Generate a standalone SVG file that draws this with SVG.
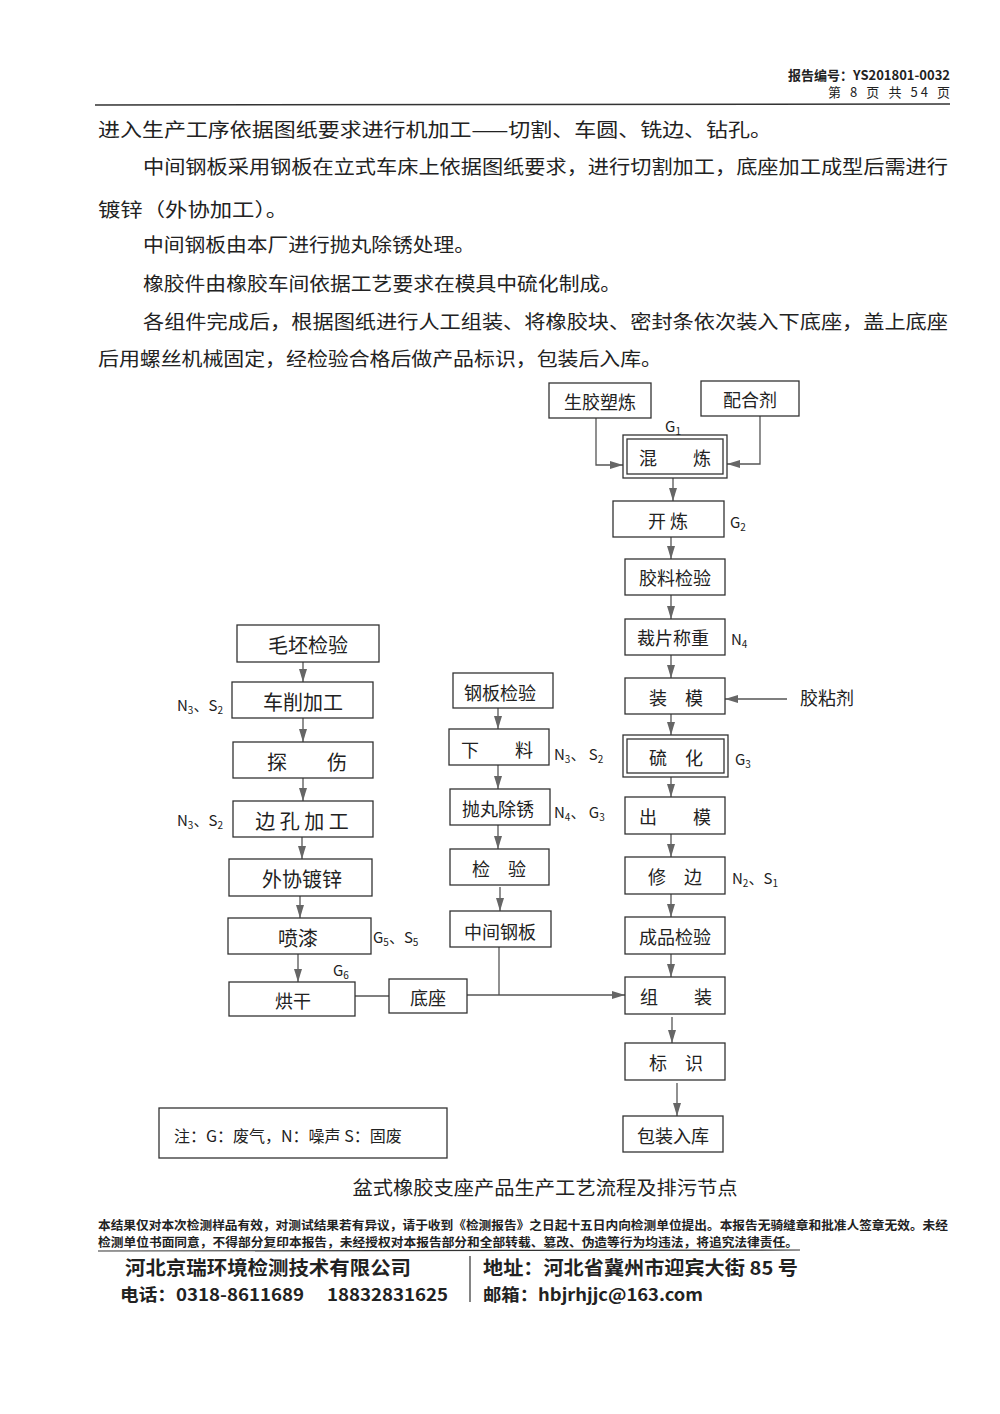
<svg xmlns="http://www.w3.org/2000/svg" width="1000" height="1414" viewBox="0 0 1000 1414">
<defs>
<marker id="ah" markerUnits="userSpaceOnUse" markerWidth="14" markerHeight="10" refX="13" refY="4" orient="auto">
<path d="M0,0 L13,4 L0,8 z" fill="#666"/>
</marker>
<style>
.t{font-family:"Noto Sans CJK SC","Noto Sans",sans-serif;fill:#222}
.body{font-size:19px}
.box{fill:none;stroke:#333;stroke-width:1.3}
.lbl{font-size:18px;text-anchor:middle;dominant-baseline:central}
.lbl2{font-size:20px;text-anchor:middle;dominant-baseline:central}
.sm{font-size:15px}
.sub{font-size:10px}
.ar{fill:none;stroke:#555;stroke-width:1.3;marker-end:url(#ah)}
.ln{fill:none;stroke:#555;stroke-width:1.3}
.ft{font-weight:bold}
</style>
</defs>
<rect width="1000" height="1414" fill="#fff"/>
<g id="header">
<text class="t ft" x="950" y="80" font-size="13" text-anchor="end">报告编号：YS201801-0032</text>
<text class="t" x="828" y="97" font-size="13" textLength="122" lengthAdjust="spacing">第 8 页 共 54 页</text>
<line x1="95" y1="105" x2="950" y2="104" stroke="#333" stroke-width="1.5"/>
</g>
<g id="bodytext">
<text class="t body" x="98" y="137" textLength="674" lengthAdjust="spacingAndGlyphs">进入生产工序依据图纸要求进行机加工——切割、车圆、铣边、钻孔。</text>
<text class="t body" x="143" y="174" textLength="805" lengthAdjust="spacingAndGlyphs">中间钢板采用钢板在立式车床上依据图纸要求，进行切割加工，底座加工成型后需进行</text>
<text class="t body" x="98" y="217" textLength="190" lengthAdjust="spacingAndGlyphs">镀锌（外协加工）。</text>
<text class="t body" x="143" y="252" textLength="332" lengthAdjust="spacingAndGlyphs">中间钢板由本厂进行抛丸除锈处理。</text>
<text class="t body" x="143" y="291" textLength="478" lengthAdjust="spacingAndGlyphs">橡胶件由橡胶车间依据工艺要求在模具中硫化制成。</text>
<text class="t body" x="143" y="329" textLength="805" lengthAdjust="spacingAndGlyphs">各组件完成后，根据图纸进行人工组装、将橡胶块、密封条依次装入下底座，盖上底座</text>
<text class="t body" x="98" y="366" textLength="564" lengthAdjust="spacingAndGlyphs">后用螺丝机械固定，经检验合格后做产品标识，包装后入库。</text>
</g>
<g id="connectors">
<polyline class="ar" points="596,418 596,465 623,465"/>
<polyline class="ar" points="760,416 760,464 727,464"/>
<line class="ar" x1="673" y1="478" x2="673" y2="501"/>
<line class="ar" x1="671" y1="537" x2="671" y2="559"/>
<line class="ar" x1="671" y1="595" x2="671" y2="619"/>
<line class="ar" x1="671" y1="655" x2="671" y2="678"/>
<line class="ar" x1="787" y1="699" x2="725" y2="699"/>
<line class="ar" x1="671" y1="714" x2="671" y2="735"/>
<line class="ar" x1="671" y1="777" x2="671" y2="797"/>
<line class="ar" x1="671" y1="834" x2="671" y2="857"/>
<line class="ar" x1="671" y1="894" x2="671" y2="917"/>
<line class="ar" x1="671" y1="954" x2="671" y2="977"/>
<line class="ar" x1="672" y1="1017" x2="672" y2="1043"/>
<line class="ar" x1="677" y1="1083" x2="677" y2="1116"/>
<line class="ar" x1="303" y1="662" x2="303" y2="682"/>
<line class="ar" x1="303" y1="718" x2="303" y2="742"/>
<line class="ar" x1="303" y1="778" x2="303" y2="801"/>
<line class="ar" x1="302" y1="837" x2="302" y2="859"/>
<line class="ar" x1="300" y1="896" x2="300" y2="918"/>
<line class="ar" x1="298" y1="954" x2="298" y2="982"/>
<line class="ar" x1="498" y1="708" x2="498" y2="729"/>
<line class="ar" x1="498" y1="765" x2="498" y2="789"/>
<line class="ar" x1="498" y1="825" x2="498" y2="849"/>
<line class="ar" x1="500" y1="887" x2="500" y2="911"/>
<line class="ln" x1="355" y1="996" x2="389" y2="996"/>
<line class="ln" x1="499" y1="947" x2="499" y2="995"/>
<line class="ar" x1="467" y1="995" x2="625" y2="995"/>
</g>
<g id="n-shengjiao"><rect class="box" x="549" y="383" width="102" height="35"/><text class="t lbl" x="600" y="401">生胶塑炼</text></g>
<g id="n-peihe"><rect class="box" x="701" y="381" width="98" height="35"/><text class="t lbl" x="750" y="399">配合剂</text></g>
<g id="n-hunlian"><rect class="box" x="623" y="435" width="104" height="43"/><rect class="box" x="627" y="439" width="96" height="35"/><text class="t lbl" x="675" y="457">混　　炼</text>
<text class="t sm" x="673" y="432" text-anchor="middle">G<tspan class="sub" dy="3">1</tspan></text></g>
<g id="n-kailian"><rect class="box" x="613" y="501" width="111" height="36"/><text class="t lbl" x="668" y="520">开 炼</text>
<text class="t sm" x="730" y="528">G<tspan class="sub" dy="3">2</tspan></text></g>
<g id="n-jiaoliao"><rect class="box" x="625" y="559" width="100" height="36"/><text class="t lbl" x="675" y="577">胶料检验</text></g>
<g id="n-caipian"><rect class="box" x="625" y="619" width="100" height="36"/><text class="t lbl" x="673" y="637">裁片称重</text>
<text class="t sm" x="731" y="645">N<tspan class="sub" dy="3">4</tspan></text></g>
<g id="n-zhuangmo"><rect class="box" x="625" y="678" width="100" height="36"/><text class="t lbl" x="676" y="697">装　模</text>
<text class="t" x="800" y="705" font-size="18">胶粘剂</text></g>
<g id="n-liuhua"><rect class="box" x="623" y="735" width="105" height="42"/><rect class="box" x="627" y="739" width="97" height="34"/><text class="t lbl" x="676" y="757">硫　化</text>
<text class="t sm" x="735" y="765">G<tspan class="sub" dy="3">3</tspan></text></g>
<g id="n-chumo"><rect class="box" x="625" y="797" width="100" height="37"/><text class="t lbl" x="675" y="816">出　　模</text></g>
<g id="n-xiubian"><rect class="box" x="625" y="857" width="100" height="37"/><text class="t lbl" x="675" y="876">修　边</text>
<text class="t sm" x="732" y="884">N<tspan class="sub" dy="3">2</tspan><tspan dy="-3">、S</tspan><tspan class="sub" dy="3">1</tspan></text></g>
<g id="n-chengpin"><rect class="box" x="625" y="917" width="100" height="37"/><text class="t lbl" x="675" y="936">成品检验</text></g>
<g id="n-zuzhuang"><rect class="box" x="625" y="977" width="100" height="37"/><text class="t lbl" x="676" y="996">组　　装</text></g>
<g id="n-biaoshi"><rect class="box" x="625" y="1043" width="100" height="37"/><text class="t lbl" x="676" y="1062">标　识</text></g>
<g id="n-baozhuang"><rect class="box" x="623" y="1116" width="100" height="36"/><text class="t lbl" x="673" y="1135">包装入库</text></g>
<g id="n-maopi"><rect class="box" x="237" y="625" width="142" height="37"/><text class="t lbl2" x="308" y="644">毛坯检验</text></g>
<g id="n-chexiao"><rect class="box" x="232" y="682" width="141" height="36"/><text class="t lbl2" x="303" y="701">车削加工</text>
<text class="t sm" x="177" y="711">N<tspan class="sub" dy="3">3</tspan><tspan dy="-3">、S</tspan><tspan class="sub" dy="3">2</tspan></text></g>
<g id="n-tanshang"><rect class="box" x="233" y="742" width="140" height="36"/><text class="t lbl2" x="307" y="761">探　　伤</text></g>
<g id="n-biankong"><rect class="box" x="233" y="801" width="140" height="36"/><text class="t lbl2" x="302" y="820">边 孔 加 工</text>
<text class="t sm" x="177" y="826">N<tspan class="sub" dy="3">3</tspan><tspan dy="-3">、S</tspan><tspan class="sub" dy="3">2</tspan></text></g>
<g id="n-waixie"><rect class="box" x="229" y="859" width="143" height="37"/><text class="t lbl2" x="302" y="878">外协镀锌</text></g>
<g id="n-penqi"><rect class="box" x="228" y="918" width="143" height="36"/><text class="t lbl2" x="298" y="937">喷漆</text>
<text class="t sm" x="373" y="943">G<tspan class="sub" dy="3">5</tspan><tspan dy="-3">、S</tspan><tspan class="sub" dy="3">5</tspan></text></g>
<g id="n-honggan"><rect class="box" x="229" y="982" width="126" height="34"/><text class="t lbl" x="293" y="1000">烘干</text>
<text class="t sm" x="333" y="976">G<tspan class="sub" dy="3">6</tspan></text></g>
<g id="n-dizuo"><rect class="box" x="389" y="979" width="78" height="34"/><text class="t lbl" x="428" y="997">底座</text></g>
<g id="n-gangban"><rect class="box" x="453" y="673" width="100" height="35"/><text class="t lbl" x="500" y="692">钢板检验</text></g>
<g id="n-xialiao"><rect class="box" x="449" y="729" width="100" height="36"/><text class="t lbl" x="497" y="749">下　　料</text>
<text class="t sm" x="554" y="760">N<tspan class="sub" dy="3">3</tspan><tspan dy="-3">、 S</tspan><tspan class="sub" dy="3">2</tspan></text></g>
<g id="n-paowan"><rect class="box" x="450" y="789" width="100" height="36"/><text class="t lbl" x="498" y="808">抛丸除锈</text>
<text class="t sm" x="554" y="818">N<tspan class="sub" dy="3">4</tspan><tspan dy="-3">、 G</tspan><tspan class="sub" dy="3">3</tspan></text></g>
<g id="n-jianyan"><rect class="box" x="450" y="849" width="99" height="36"/><text class="t lbl" x="499" y="868">检　验</text></g>
<g id="n-zhongjian"><rect class="box" x="450" y="911" width="101" height="36"/><text class="t lbl" x="500" y="931">中间钢板</text></g>
<g id="note"><rect class="box" x="159" y="1108" width="288" height="50"/><text class="t" x="174" y="1135" font-size="16" dominant-baseline="central">注：G：废气，N：噪声 S：固废</text></g>
<text class="t" x="545" y="1195" font-size="19" text-anchor="middle" textLength="385" lengthAdjust="spacingAndGlyphs">盆式橡胶支座产品生产工艺流程及排污节点</text>
<g id="footer">
<text class="t ft" x="98" y="1230" font-size="12" textLength="850" lengthAdjust="spacingAndGlyphs">本结果仅对本次检测样品有效，对测试结果若有异议，请于收到《检测报告》之日起十五日内向检测单位提出。本报告无骑缝章和批准人签章无效。未经</text>
<text class="t ft" x="98" y="1247" font-size="12" textLength="700" lengthAdjust="spacingAndGlyphs">检测单位书面同意，不得部分复印本报告，未经授权对本报告部分和全部转载、篡改、伪造等行为均违法，将追究法律责任。</text>
<line x1="98" y1="1251" x2="800" y2="1250" stroke="#333" stroke-width="1.2"/>
<text class="t ft" x="125" y="1275" font-size="19" textLength="286" lengthAdjust="spacingAndGlyphs">河北京瑞环境检测技术有限公司</text>
<text class="t ft" x="120" y="1301" font-size="17" textLength="328" lengthAdjust="spacingAndGlyphs">电话：0318-8611689　 18832831625</text>
<line x1="470" y1="1256" x2="470" y2="1302" stroke="#333" stroke-width="1.2"/>
<text class="t ft" x="483" y="1275" font-size="19" textLength="315" lengthAdjust="spacingAndGlyphs">地址：河北省冀州市迎宾大街 85 号</text>
<text class="t ft" x="483" y="1301" font-size="17" textLength="220" lengthAdjust="spacingAndGlyphs">邮箱：hbjrhjjc@163.com</text>
</g>
</svg>
